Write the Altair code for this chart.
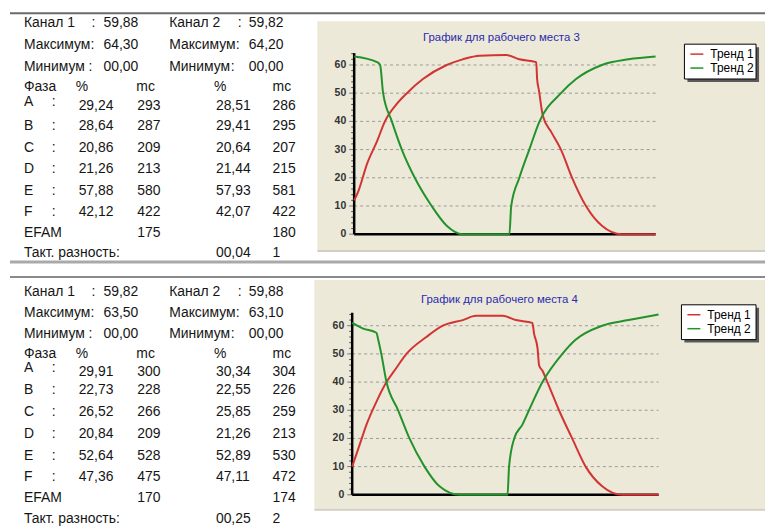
import altair as alt
import pandas as pd

FONT = "Liberation Sans"

# ---------------- data ----------------
phases = ["A", "B", "C", "D", "E", "F"]
series_names = ["Тренд 1", "Тренд 2"]
chart_titles = ["График для рабочего места 3", "График для рабочего места 4"]
y_ticks = [0, 10, 20, 30, 40, 50, 60]
minor_ticks = [2, 4, 6, 8, 12, 14, 16, 18, 22, 24, 26, 28, 32, 34, 36, 38,
               42, 44, 46, 48, 52, 54, 56, 58, 62, 64]
grid_vals = [10, 20, 30, 40, 50, 60]

# panel 1
p1_channel = [59.88, 59.82]
p1_max = [64.30, 64.20]
p1_min = [0.00, 0.00]
p1_pct1 = [29.24, 28.64, 20.86, 21.26, 57.88, 42.12]
p1_ms1 = [293, 287, 209, 213, 580, 422]
p1_pct2 = [28.51, 29.41, 20.64, 21.44, 57.93, 42.07]
p1_ms2 = [286, 295, 207, 215, 581, 422]
p1_efam = [175, 180]
p1_takt = [0.04, 1]

# panel 2
p2_channel = [59.82, 59.88]
p2_max = [63.50, 63.10]
p2_min = [0.00, 0.00]
p2_pct1 = [29.91, 22.73, 26.52, 20.84, 52.64, 47.36]
p2_ms1 = [300, 228, 266, 209, 528, 475]
p2_pct2 = [30.34, 22.55, 25.85, 21.26, 52.89, 47.11]
p2_ms2 = [304, 226, 259, 213, 530, 472]
p2_efam = [170, 174]
p2_takt = [0.25, 2]

# trends (x in % of the time axis)
p1_t1_x = [0, 1.3, 4.3, 7.6, 10.2, 14, 17.5, 22.8, 30.7, 36, 41.6, 50.5, 54.8, 60.4, 60.7, 61.3, 62.6, 65.5, 68.6, 72.3, 76.9, 82.2, 88.8, 100]
p1_t1_v = [12, 15, 25, 33, 40, 46, 50, 55, 60, 62, 63.3, 63.5, 62, 61, 55, 51, 42, 36, 30, 20, 10, 3, 0, 0]
p1_t2_x = [0, 7.6, 8.6, 9.6, 12.5, 15.8, 20.1, 25.7, 30.7, 36, 51.5, 52.1, 54.8, 58.1, 61.5, 68.6, 73.6, 82.2, 91, 100]
p1_t2_v = [63, 61, 60, 50, 40, 30, 20, 10, 3, 0, 0, 10, 20, 30, 40, 50, 55, 60, 62, 63]

p2_t1_x = [0, 2.5, 4.7, 7.9, 11.2, 14.4, 17.7, 24.2, 29.6, 36.1, 40.4, 49.1, 53.4, 58.8, 59.4, 60.5, 61.0, 62.1, 63.7, 67.5, 71.8, 76.2, 81.6, 88.1, 100]
p2_t1_v = [10, 18, 25, 33, 40, 45, 50, 56, 60, 62, 63.5, 63.5, 62, 61, 57, 52, 46, 44, 40, 30, 20, 10, 3, 0, 0]
p2_t2_x = [0, 3.6, 7.9, 8.5, 9.5, 11.2, 15, 18.7, 23.6, 28.5, 35, 50.7, 51.2, 52.9, 55.6, 57.7, 62.1, 68.6, 72.9, 81.6, 90.2, 100]
p2_t2_v = [61, 59, 57.5, 55, 50, 40, 30, 20, 10, 3, 0, 0, 10, 20, 25, 30, 40, 50, 55, 60, 62, 64]

RED = "#d23434"
GREEN = "#22922a"
BEIGE = "#ECE9D8"
W = 759
ROW_H = [262, 257]
TFS = 14  # table font size


def fmt(v):
    return f"{v:05.2f}".replace(".", ",")


# table layout (row-relative pixel positions): header rows, phase header, A..F, EFAM, Такт
ROWS = [
    [14, 36, 58, 78, 97, 117, 139, 161, 183, 204, 225, 245],
    [22, 43, 64, 84, 103, 121, 143, 165, 187, 208, 229, 250],
]
LBL, CH1C, CH1V, CH2L, CH2C, CH2V = 14, 82, 94, 160, 229, 240
PHC, PCT1, MS1, PCT2, MS2 = 42, 69, 128, 207, 264


def table(rows, ch, mx, mn, pct1, ms1, pct2, ms2, efam, takt):
    out = []

    def add(t, x, y):
        out.append({"t": str(t), "px": x, "py": y})

    add("Канал 1", LBL, rows[0]); add(":", CH1C, rows[0]); add(fmt(ch[0]), CH1V, rows[0])
    add("Канал 2", CH2L, rows[0]); add(":", CH2C, rows[0]); add(fmt(ch[1]), CH2V, rows[0])
    add("Максимум:", LBL, rows[1]); add(fmt(mx[0]), CH1V, rows[1])
    add("Максимум:", CH2L, rows[1]); add(fmt(mx[1]), CH2V, rows[1])
    add("Минимум", LBL, rows[2]); add(":", CH1C - 3, rows[2]); add(fmt(mn[0]), CH1V, rows[2])
    add("Минимум", CH2L, rows[2]); add(":", CH2C - 7, rows[2]); add(fmt(mn[1]), CH2V, rows[2])
    add("Фаза", LBL, rows[3]); add("%", PCT1 - 3, rows[3]); add("mc", MS1 - 1, rows[3])
    add("%", PCT2 - 2, rows[3]); add("mc", MS2, rows[3])
    for i, ph in enumerate(phases):
        y = rows[4 + i]
        ly = y - 4 if i == 0 else y
        add(ph, LBL, ly); add(":", PHC, ly)
        add(fmt(pct1[i]), PCT1, y); add(ms1[i], MS1, y)
        add(fmt(pct2[i]), PCT2, y); add(ms2[i], MS2, y)
    add("EFAM", LBL, rows[10]); add(efam[0], MS1, rows[10]); add(efam[1], MS2, rows[10])
    add("Такт. разность:", LBL, rows[11]); add(fmt(takt[0]), PCT2, rows[11]); add(takt[1], MS2, rows[11])
    return pd.DataFrame(out)


one = pd.DataFrame({"a": [0]})


def hrule(y, x1, x2, color, width):
    return alt.Chart(one).mark_rule(color=color, strokeWidth=width).encode(
        x=alt.value(x1), x2=alt.value(x2), y=alt.value(y)
    )


def box(x1, x2, y1, y2, color, stroke=None):
    kw = {"color": color}
    if stroke:
        kw.update(stroke=stroke, strokeWidth=1)
    return alt.Chart(one).mark_rect(**kw).encode(
        x=alt.value(x1), x2=alt.value(x2), y=alt.value(y1), y2=alt.value(y2)
    )


def text_layer(df, size, color, align, weight="normal"):
    return alt.Chart(df).mark_text(
        align=align, baseline="middle", font=FONT, fontSize=size, color=color,
        fontWeight=weight,
    ).encode(
        x=alt.X("px:Q", scale=None, axis=None),
        y=alt.Y("py:Q", scale=None, axis=None),
        text="t:N",
    )


def panel(idx, tx1, tv1, tx2, tv2, xrange, yrange, ymax, leg, decor, tbl, title_pos, height):
    xs = alt.Scale(domain=[0, 100], range=xrange)
    ys = alt.Scale(domain=[0, ymax], range=yrange, nice=False, zero=True)
    df = pd.concat([
        pd.DataFrame({"x": tx1, "v": tv1, "s": series_names[0]}),
        pd.DataFrame({"x": tx2, "v": tv2, "s": series_names[1]}),
    ])
    gdf = pd.DataFrame({"g": grid_vals, "x1": 0, "x2": 100})
    grid = alt.Chart(gdf).mark_rule(
        color="#9a9a9a", strokeDash=[3, 3], strokeWidth=1
    ).encode(
        x=alt.X("x1:Q", scale=xs, axis=None),
        x2="x2:Q",
        y=alt.Y("g:Q", scale=ys, axis=None),
    )
    xaxis = alt.Chart(pd.DataFrame({"x1": [0], "x2": [100], "z": [0]})).mark_rule(
        color="black", strokeWidth=2.5
    ).encode(
        x=alt.X("x1:Q", scale=xs, axis=None),
        x2="x2:Q",
        y=alt.Y("z:Q", scale=ys, axis=None),
    )
    yaxis = alt.Chart(pd.DataFrame({"x0": [0], "y1": [0], "y2": [ymax]})).mark_rule(
        color="black", strokeWidth=2.5
    ).encode(
        x=alt.X("x0:Q", scale=xs, axis=None),
        y=alt.Y("y1:Q", scale=ys, axis=None),
        y2="y2:Q",
    )
    tdf = pd.DataFrame({"t": y_ticks, "x0": 0})
    mdf = pd.DataFrame({"t": [m for m in minor_ticks if m <= ymax], "x0": 0})
    ticks = alt.Chart(tdf).mark_rule(color="#777", strokeWidth=1, xOffset=-5).encode(
        x=alt.X("x0:Q", scale=xs, axis=None),
        x2="x0:Q",
        y=alt.Y("t:Q", scale=ys, axis=None),
    )
    mticks = alt.Chart(mdf).mark_rule(color="#555", strokeWidth=1, xOffset=-3).encode(
        x=alt.X("x0:Q", scale=xs, axis=None),
        x2="x0:Q",
        y=alt.Y("t:Q", scale=ys, axis=None),
    )
    tlabels = alt.Chart(tdf).mark_text(
        align="right", baseline="middle", dx=-8, font=FONT, fontSize=10.5,
        fontWeight="bold", color="#333",
    ).encode(
        x=alt.X("x0:Q", scale=xs, axis=None),
        y=alt.Y("t:Q", scale=ys, axis=None),
        text="t:Q",
    )
    lines = alt.Chart(df).mark_line(strokeWidth=2, interpolate="monotone").encode(
        x=alt.X("x:Q", scale=xs, axis=None),
        y=alt.Y("v:Q", scale=ys, axis=None),
        color=alt.Color("s:N", scale=alt.Scale(domain=series_names, range=[RED, GREEN]), legend=None),
    )
    lx, ly, lw, lh = leg
    legend_parts = [
        box(lx + 3, lx + 3 + lw, ly + 3, ly + 3 + lh, "#5a5a5a"),
        box(lx, lx + lw, ly, ly + lh, "white", stroke="black"),
    ]
    for k, (name, col) in enumerate(zip(series_names, [RED, GREEN])):
        yy = ly + 10 + k * 14
        legend_parts.append(hrule(yy, lx + 6, lx + 19, col, 1.5))
        legend_parts.append(
            alt.Chart(one).mark_text(
                align="left", baseline="middle", font=FONT, fontSize=12, color="black",
                text=name,
            ).encode(x=alt.value(lx + 26), y=alt.value(yy))
        )
    texts = text_layer(tbl, TFS, "#151515", "left")
    title = text_layer(
        pd.DataFrame({"t": [chart_titles[idx]], "px": [title_pos[0]], "py": [title_pos[1]]}),
        11.5, "#2a2ab0", "center",
    )
    return alt.layer(
        *decor, grid, ticks, mticks, xaxis, yaxis, tlabels, lines, *legend_parts, texts, title
    ).properties(width=W, height=height)


decor1 = [
    hrule(4, 0, W, "#6a6a6a", 2),
    box(309, W, 12, 242, BEIGE),
    hrule(243, 309, W, "#d2cfc2", 2),
    hrule(254, 0, W, "#a9a9a9", 3),
]
decor2 = [
    hrule(7, 0, W, "#8a8a8a", 2),
    box(306, W, 10, 240, BEIGE),
    hrule(241, 306, W, "#d2cfc2", 2),
]

tbl1 = table(ROWS[0], p1_channel, p1_max, p1_min, p1_pct1, p1_ms1, p1_pct2, p1_ms2, p1_efam, p1_takt)
tbl2 = table(ROWS[1], p2_channel, p2_max, p2_min, p2_pct1, p2_ms1, p2_pct2, p2_ms2, p2_efam, p2_takt)

row1 = panel(0, p1_t1_x, p1_t1_v, p1_t2_x, p1_t2_v, [346, 649], [226, 44], 64.2,
             (678, 35, 72, 35), decor1, tbl1, (494, 29), ROW_H[0])
row2 = panel(1, p2_t1_x, p2_t1_v, p2_t2_x, p2_t2_v, [344, 652], [226, 43], 64.6,
             (675, 35, 75, 35), decor2, tbl2, (492, 30), ROW_H[1])

chart = alt.vconcat(row1, row2, spacing=0).properties(
    padding=0, background="white"
).configure_view(strokeWidth=0)

chart.save("out.html", embed_options={"renderer": "svg", "actions": False})
